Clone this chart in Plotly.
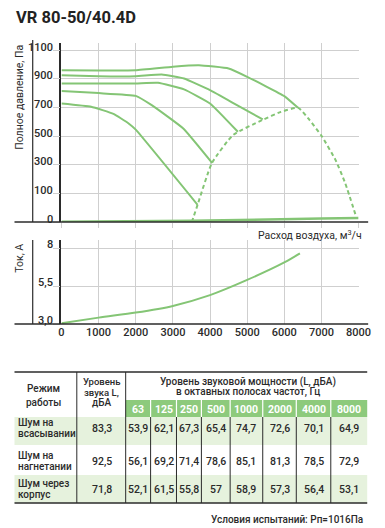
import plotly.graph_objects as go

W, H = 385, 528
FONT = "Roboto, Liberation Sans, sans-serif"
GREEN = "#84c575"
GRID = "#cfcfcf"
DARK = "#2b2b2b"

# ---------------- data ----------------
title = "VR 80-50/40.4D"
flow_ticks = [0, 1000, 2000, 3000, 4000, 5000, 6000, 7000, 8000]
pressure_ticks = [0, 100, 300, 500, 700, 900, 1100]
current_ticks = [3.0, 5.5, 8]

curve1_x = [0, 1000, 2000, 3000, 3700, 4500, 5000, 6000, 6370]
curve1_y = [960, 958, 960, 985, 995, 972, 914, 779, 697]
curve2_x = [0, 1000, 2000, 2700, 3300, 4000, 4700, 5420]
curve2_y = [925, 918, 918, 930, 902, 821, 720, 616]
curve3_x = [0, 1000, 2000, 2600, 3300, 4000, 4750]
curve3_y = [867, 867, 868, 872, 826, 728, 530]
curve4_x = [0, 1000, 2000, 2430, 3280, 4060]
curve4_y = [814, 800, 781, 716, 553, 311]
curve5_x = [0, 800, 1400, 1800, 2000, 3665]
curve5_y = [728, 705, 655, 590, 545, 60]
envelope_x = [3510, 3665, 4050, 4620, 5400, 5910, 6374, 6684, 7019, 7381, 7639, 7950]
envelope_y = [0, 60, 311, 507, 611, 669, 697, 611, 495, 332, 172, 12]
base_x = [0, 3500, 7000, 8000]
base_y = [1, 4, 12, 14]

current_x = [0, 1000, 2000, 3000, 4000, 5000, 6000, 6420]
current_y = [3.05, 3.42, 3.75, 4.19, 4.9, 5.9, 7.05, 7.65]

octave_freqs = [63, 125, 250, 500, 1000, 2000, 4000, 8000]
mode_lines = [["Шум на", "всасывании"], ["Шум на", "нагнетании"], ["Шум через", "корпус"]]
sound_level = [83.3, 92.5, 71.8]
suction = [53.9, 62.1, 67.3, 65.4, 74.7, 72.6, 70.1, 64.9]
discharge = [56.1, 69.2, 71.4, 78.6, 85.1, 81.3, 78.5, 72.9]
casing = [52.1, 61.5, 55.8, 57, 58.9, 57.3, 56.4, 53.1]
octave_rows = [suction, discharge, casing]
footnote = "Условия испытаний: Рп=1016Па"


# pressure axis of the original is compressed below 100 Pa (0..100 spans one 200 Pa step)
def p_axis(p):
    return p if p >= 100 else 2 * p - 100


def fmt(v):
    return f"{v:g}".replace(".", ",")


def fx(x):
    return x / W


def fy(y):
    return 1 - y / H


fig = go.Figure()

for cx, cy in [(curve1_x, curve1_y), (curve2_x, curve2_y), (curve3_x, curve3_y),
               (curve4_x, curve4_y), (curve5_x, curve5_y)]:
    fig.add_trace(go.Scatter(x=cx, y=[p_axis(v) for v in cy], mode="lines",
                             line=dict(color=GREEN, width=2, shape="spline", smoothing=0.35),
                             xaxis="x", yaxis="y", hoverinfo="skip"))
fig.add_trace(go.Scatter(x=envelope_x, y=[p_axis(v) for v in envelope_y], mode="lines",
                         line=dict(color=GREEN, width=2, dash="4px,3px", shape="spline", smoothing=0.5),
                         xaxis="x", yaxis="y", hoverinfo="skip"))
fig.add_trace(go.Scatter(x=base_x, y=[p_axis(v) for v in base_y], mode="lines",
                         line=dict(color=GREEN, width=2.5),
                         xaxis="x", yaxis="y", hoverinfo="skip"))
fig.add_trace(go.Scatter(x=current_x, y=current_y, mode="lines",
                         line=dict(color=GREEN, width=2, shape="spline", smoothing=0.8),
                         xaxis="x2", yaxis="y2", hoverinfo="skip"))

tickfont = dict(family=FONT, size=11, color=DARK, weight=500)
xdom = [fx(61), fx(371)]

shapes = []
# axis lines extending beyond plot
for yline, ytop in [(222, 40), (324, 240)]:
    shapes.append(dict(type="line", xref="paper", yref="paper", x0=fx(12), x1=fx(381),
                       y0=fy(yline), y1=fy(yline), line=dict(color=DARK, width=1.5)))
    shapes.append(dict(type="line", xref="paper", yref="paper", x0=fx(31), x1=fx(31),
                       y0=fy(yline), y1=fy(ytop), line=dict(color=DARK, width=1.2)))

# ---------------- table geometry ----------------
col_x = [12, 77, 128, 154, 181, 207, 237, 271, 306, 342, 380]
t_top, g_top, g_bot = 372, 400, 417
row_edges = [417, 445, 475, 503]
LIGHT = "#e6f2dd"
HEAD_GREEN = "#8dca7c"

for i in (0, 2):
    shapes.append(dict(type="rect", xref="paper", yref="paper", x0=fx(col_x[0]), x1=fx(col_x[-1]),
                       y0=fy(row_edges[i + 1]), y1=fy(row_edges[i]), fillcolor=LIGHT, line=dict(width=0),
                       layer="below"))
shapes.append(dict(type="rect", xref="paper", yref="paper", x0=fx(col_x[2]), x1=fx(col_x[-1]),
                   y0=fy(g_bot), y1=fy(g_top), fillcolor=HEAD_GREEN, line=dict(width=0), layer="below"))
for yb in (t_top, row_edges[-1]):
    shapes.append(dict(type="line", xref="paper", yref="paper", x0=fx(col_x[0]), x1=fx(col_x[-1]),
                       y0=fy(yb), y1=fy(yb), line=dict(color=DARK, width=1.3)))
for xc in col_x[1:3]:
    shapes.append(dict(type="line", xref="paper", yref="paper", x0=fx(xc), x1=fx(xc),
                       y0=fy(t_top), y1=fy(row_edges[-1]), line=dict(color=DARK, width=1)))
for xc in col_x[3:-1]:
    shapes.append(dict(type="line", xref="paper", yref="paper", x0=fx(xc), x1=fx(xc),
                       y0=fy(g_top), y1=fy(g_bot), line=dict(color="white", width=1.2)))
    shapes.append(dict(type="line", xref="paper", yref="paper", x0=fx(xc), x1=fx(xc),
                       y0=fy(g_bot), y1=fy(row_edges[-1]), line=dict(color=DARK, width=1)))

ann = []


def txt(x, y, s, size=10, xanchor="center", color=DARK, weight=500, **kw):
    ann.append(dict(x=fx(x), y=fy(y), xref="paper", yref="paper", text=s,
                    showarrow=False, xanchor=xanchor, yanchor="middle",
                    font=dict(family=FONT, size=size, color=color, weight=weight), **kw))


# y tick labels (sit slightly above their gridlines, as in the original)
for t in pressure_ticks:
    ann.append(dict(x=fx(54), y=p_axis(t), xref="paper", yref="y", text=str(t), showarrow=False,
                    xanchor="right", yanchor="middle", yshift=3, font=tickfont))
for t in current_ticks:
    ann.append(dict(x=fx(54), y=t, xref="paper", yref="y2", text=("3,0" if t == 3.0 else fmt(t)),
                    showarrow=False, xanchor="right", yanchor="middle", yshift=4, font=tickfont))

txt(11, 18, title, size=16.5, xanchor="left", color="#222", weight=700)
ann.append(dict(x=fx(17), y=fy(43), xref="paper", yref="paper", text="Полное давление, Па",
                textangle=-90, showarrow=False, xanchor="center", yanchor="top",
                font=dict(family=FONT, size=10.5, color=DARK)))
ann.append(dict(x=fx(17), y=fy(242), xref="paper", yref="paper", text="Ток, А",
                textangle=-90, showarrow=False, xanchor="center", yanchor="top",
                font=dict(family=FONT, size=10.5, color=DARK)))
txt(377, 235, "Расход воздуха, м<sup>3</sup>/ч", size=10.5, xanchor="right", weight=400)

# table header
txt(42, 388, "Режим", size=10)
txt(42, 402, "работы", size=10)
txt(103, 381.5, "Уровень", size=9.5)
txt(103, 392, "звука L,", size=9.5)
txt(103, 402.5, "дБА", size=10)
txt(256, 382, "Уровень звуковой мощности (L, дБА)", size=10)
txt(256, 392, "в октавных полосах частот, Гц", size=10)
for j, f in enumerate(octave_freqs):
    txt((col_x[j + 2] + col_x[j + 3]) / 2, 409, str(f), size=10.5, color="white", weight=700)

row_centers = [428, 461, 489]
for r in range(3):
    yc = row_centers[r]
    txt(14, yc - 5.5, mode_lines[r][0], size=10, xanchor="left")
    txt(14, yc + 5.5, mode_lines[r][1], size=10, xanchor="left")
    txt(103, yc, fmt(sound_level[r]), size=10.5)
    for j, v in enumerate(octave_rows[r]):
        txt((col_x[j + 2] + col_x[j + 3]) / 2, yc, fmt(v), size=10.5)

txt(378, 519, footnote, size=10, xanchor="right")

fig.update_layout(
    width=W, height=H, margin=dict(l=0, r=0, t=0, b=0),
    paper_bgcolor="white", plot_bgcolor="white", showlegend=False,
    xaxis=dict(domain=xdom, range=[0, 8000], tickvals=flow_ticks, showticklabels=False,
               showgrid=True, gridcolor=GRID, gridwidth=1, zeroline=False, ticks="outside",
               ticklen=5, tickcolor=GRID, showline=False, anchor="y", fixedrange=True),
    yaxis=dict(domain=[fy(222), fy(43)], range=[-100, 1150],
               tickvals=[p_axis(t) for t in pressure_ticks], showticklabels=False,
               showgrid=True, gridcolor=GRID, zeroline=False, ticks="outside", ticklen=7, tickcolor=GRID,
               showline=True, linecolor=DARK, linewidth=1.5, anchor="x", fixedrange=True),
    xaxis2=dict(domain=xdom, range=[0, 8000], tickvals=flow_ticks, ticktext=[str(t) for t in flow_ticks],
                showgrid=True, gridcolor=GRID, zeroline=False, ticks="", showline=False,
                tickfont=tickfont, anchor="y2", fixedrange=True),
    yaxis2=dict(domain=[fy(324), fy(240)], range=[3, 8.53], tickvals=current_ticks, showticklabels=False,
                showgrid=True, gridcolor=GRID, zeroline=False, ticks="outside", ticklen=7, tickcolor=GRID,
                showline=True, linecolor=DARK, linewidth=1.5, anchor="x2", fixedrange=True),
    shapes=shapes, annotations=ann,
)

fig.write_html("out.html", config={"displayModeBar": False})

# remove default page margins so the figure sits exactly in the window
with open("out.html", encoding="utf-8") as fh:
    html = fh.read()
html = html.replace("<head>", "<head><style>html,body{margin:0;padding:0;overflow:hidden;}</style>", 1)
with open("out.html", "w", encoding="utf-8") as fh:
    fh.write(html)
